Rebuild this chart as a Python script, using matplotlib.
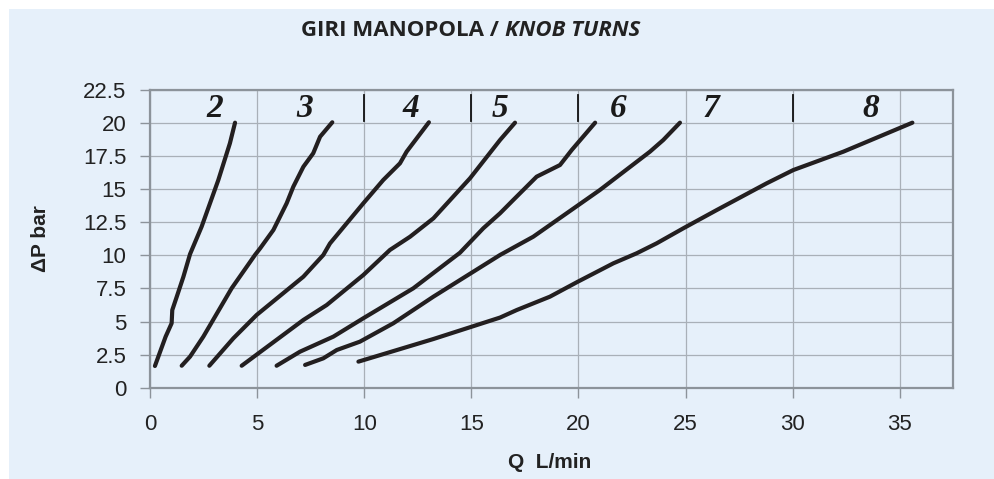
import matplotlib
matplotlib.use("Agg")
import matplotlib.pyplot as plt
from matplotlib.patches import Rectangle

# ---- data ----
turns = ["2", "3", "4", "5", "6", "7", "8"]
q2 = [0.23, 0.73, 1.01, 1.04, 1.25, 1.56, 1.87, 2.41, 3.19, 3.73, 3.97]
p2 = [1.64, 3.86, 4.87, 5.87, 6.88, 8.39, 10.1, 12.17, 15.7, 18.47, 20.03]
q3 = [1.48, 1.87, 2.49, 3.81, 4.90, 5.14, 5.76, 6.38, 6.69, 7.16, 7.62, 7.94, 8.51]
p3 = [1.66, 2.35, 3.86, 7.51, 10.03, 10.53, 11.92, 13.94, 15.19, 16.7, 17.72, 18.97, 20.06]
q4 = [2.77, 3.89, 4.98, 7.16, 8.09, 8.40, 9.96, 10.89, 11.67, 11.98, 13.02]
p4 = [1.66, 3.73, 5.5, 8.39, 10.03, 10.9, 13.94, 15.7, 16.96, 17.84, 20.06]
q5 = [4.28, 7.16, 8.25, 9.96, 11.2, 12.14, 13.23, 14.94, 16.34, 17.04]
p5 = [1.66, 5.12, 6.25, 8.52, 10.41, 11.41, 12.8, 15.83, 18.72, 20.03]
q6 = [5.91, 7.0, 8.56, 9.96, 12.29, 14.47, 15.56, 16.34, 16.96, 18.05, 19.14, 19.69, 20.78]
p6 = [1.66, 2.72, 3.86, 5.25, 7.51, 10.2, 12.05, 13.18, 14.19, 15.95, 16.83, 17.97, 20.03]
q7 = [7.24, 8.09, 8.72, 9.80, 11.36, 13.23, 16.34, 17.89, 21.0, 23.34, 23.96, 24.74]
p7 = [1.72, 2.22, 2.85, 3.48, 4.87, 6.88, 10.03, 11.41, 14.94, 17.84, 18.72, 20.03]
q8 = [9.73, 13.23, 16.34, 17.12, 18.67, 19.97, 21.63, 22.72, 23.65, 24.9, 26.46, 28.79, 30.03, 32.37, 35.59]
p8 = [1.97, 3.68, 5.3, 5.87, 6.88, 8.01, 9.40, 10.16, 10.91, 12.05, 13.43, 15.45, 16.45, 17.84, 20.03]
label_x = [3.03, 7.24, 12.17, 16.34, 21.86, 26.19, 33.66]
label_y = 21.1
dark_ticks_x = [10, 15, 20, 30]
x_ticks = [0, 5, 10, 15, 20, 25, 30, 35]
y_ticks = [0, 2.5, 5, 7.5, 10, 12.5, 15, 17.5, 20, 22.5]
y_ticklabels = ["0", "2.5", "5", "7.5", "10", "12.5", "15", "17.5", "20", "22.5"]

curves_q = [q2, q3, q4, q5, q6, q7, q8]
curves_p = [p2, p3, p4, p5, p6, p7, p8]

BG = "#E6F0FA"
GRID = "#A9B0B8"
SPINE = "#8C939A"
LINE = "#231F20"

fig = plt.figure(figsize=(9.95, 4.79), dpi=100, facecolor="white")
fig.patches.append(Rectangle((9 / 995, 0), 1 - 9 / 995, 1 - 9 / 479,
                             transform=fig.transFigure, facecolor=BG,
                             edgecolor="none", zorder=-10))

W, H = 995, 479
ax = fig.add_axes([150 / W, 1 - 387.7 / H, (953.3 - 150) / W, (387.7 - 90) / H])
ax.set_facecolor(BG)
ax.set_xlim(0, 37.5)
ax.set_ylim(0, 22.5)

ax.set_xticks(x_ticks)
ax.set_yticks(y_ticks)
ax.set_yticklabels(y_ticklabels)
ax.grid(True, color=GRID, linewidth=0.9)
ax.set_axisbelow(True)
for s in ax.spines.values():
    s.set_color(SPINE)
    s.set_linewidth(1.6)
ax.tick_params(axis="both", colors=SPINE, length=7, width=1.0,
               labelcolor="#222222", labelsize=16)
ax.tick_params(axis="x", pad=12)
ax.tick_params(axis="y", pad=10)
for lab in ax.get_xticklabels() + ax.get_yticklabels():
    lab.set_fontfamily("Liberation Sans")

for xv in dark_ticks_x:
    ax.plot([xv, xv], [20.15, 22.1], color="#111111", linewidth=1.3, zorder=3)

for q, p in zip(curves_q, curves_p):
    ax.plot(q, p, color=LINE, linewidth=3.0, solid_capstyle="round",
            solid_joinstyle="round", zorder=4)

for lx, t in zip(label_x, turns):
    ax.text(lx, label_y, t, ha="center", va="center", fontsize=24,
            fontweight="bold", fontstyle="italic", family="Liberation Serif",
            color="#1a1a1a", zorder=5)

# title
tx = 0.5075
fig.text(tx, 1 - 30 / H, "GIRI MANOPOLA / ", ha="right", va="center",
         fontsize=16, fontweight="bold", family="Open Sans", color="#222222")
fig.text(tx, 1 - 30 / H, "KNOB TURNS", ha="left", va="center",
         fontsize=16, fontweight="bold", fontstyle="italic", family="Open Sans",
         color="#222222")

fig.text(41 / W, 1 - 239 / H, "ΔP bar", rotation=90, ha="center", va="center",
         fontsize=15, fontweight="bold", family="Liberation Sans", color="#222222")
fig.text(550 / W, 1 - 463 / H, "Q  L/min", ha="center", va="center",
         fontsize=15, fontweight="bold", family="Liberation Sans", color="#222222")

fig.savefig("out.png", dpi=100, facecolor="white")
